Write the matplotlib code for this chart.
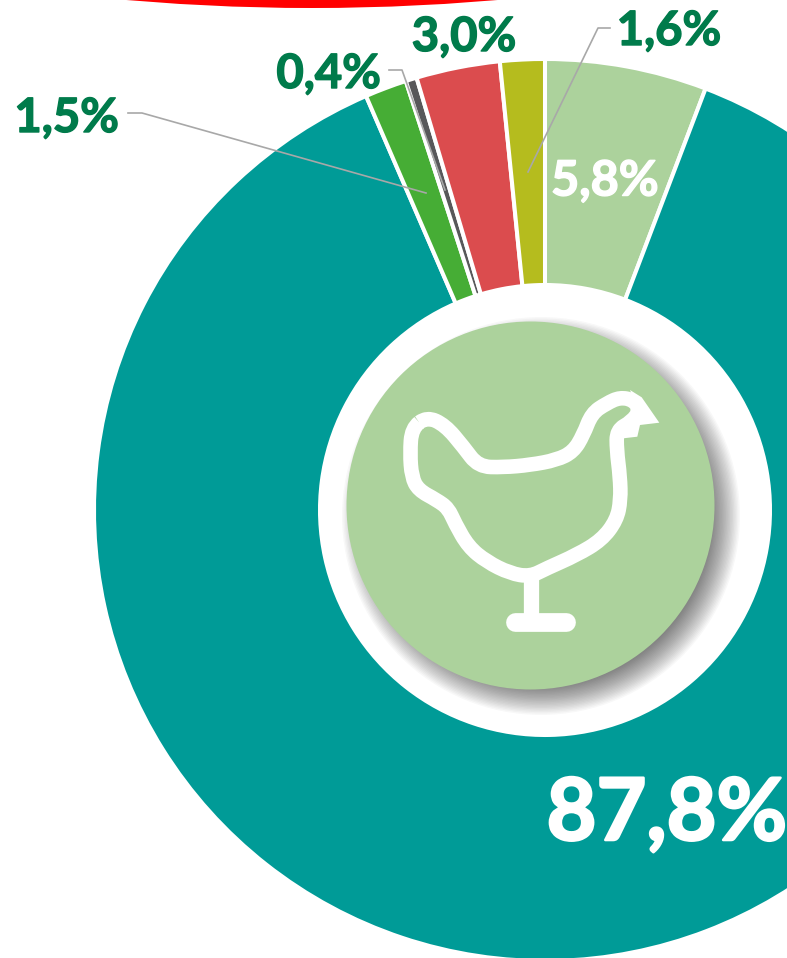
import matplotlib
matplotlib.use('Agg')
import matplotlib.pyplot as plt
import matplotlib.patheffects as pe
from matplotlib.patches import Circle, Polygon, PathPatch
from matplotlib.path import Path

# clockwise from 12 o'clock
values = [5.8, 87.8, 1.5, 0.4, 3.0, 1.6]
labels = ['5,8%', '87,8%', '1,5%', '0,4%', '3,0%', '1,6%']
colors = ['#ACD29C', '#009B97', '#46AD35', '#58585A', '#DB4C4E', '#B5BC1E']

plt.rcParams['font.family'] = ['Lato', 'DejaVu Sans']

fig = plt.figure(figsize=(7.87, 9.58), dpi=100)
ax = fig.add_axes([0, 0, 1, 1])

# red arc of the next chart up, cut off by the image edge
ax.add_patch(Circle((312, 8 - 2143), 2143, color='#FF0000', lw=0))

ax.pie(values, colors=colors, center=(545, 510), radius=451, startangle=-90,
       counterclock=True, normalize=True,
       wedgeprops=dict(width=226, edgecolor='white', linewidth=2.9))

# axes in image pixels, y down
ax.set_xlim(0, 787)
ax.set_ylim(958, 0)
ax.set_aspect('equal')
ax.axis('off')

# soft shadow behind the icon
for i in range(24):
    ax.add_patch(Circle((541, 516), 199 - i * 1.4, color='black', alpha=0.028, lw=0))
ax.add_patch(Circle((530.5, 505.5), 184, color='#ACD29C', lw=0))

# hen outline, traced in pixels
hen = [(426.7, 416.7), (445, 425), (463.3, 446.7), (478.3, 466.7), (503.3, 467.3),
       (530, 465), (556.7, 460), (573.3, 451.7), (583.3, 435), (591.7, 413.3),
       (606.7, 403.3), (620, 397.3), (633.3, 400), (640, 410), (631.7, 421.7),
       (616.7, 430), (616.7, 450), (620, 476.7), (620.7, 500), (616.7, 520),
       (601.7, 540), (576.7, 555), (546.7, 568.3), (530, 576.7), (510, 573.3),
       (486.7, 561.7), (468.3, 546.7), (455, 523.3), (448.3, 508.3), (436.7, 500),
       (418.3, 490), (411.7, 476.7), (410, 453.3), (411.7, 428.3)]

# smooth closed curve through the midpoints of the traced outline
n = len(hen)
mids = [((hen[i][0] + hen[(i + 1) % n][0]) / 2, (hen[i][1] + hen[(i + 1) % n][1]) / 2) for i in range(n)]
verts = [mids[-1]]
codes = [Path.MOVETO]
for i in range(n):
    verts += [hen[i], mids[i]]
    codes += [Path.CURVE3, Path.CURVE3]
ax.add_patch(PathPatch(Path(verts, codes), fill=False, edgecolor='white', lw=10.5, joinstyle='round'))

beak = [(630, 390), (641.7, 397.3), (659.3, 422.7), (640, 425), (637.3, 436.7),
        (623.3, 438.3), (625, 423), (631.7, 416.7), (635, 403)]
ax.add_patch(Polygon(beak, closed=True, color='white', lw=0))
ax.plot([530.5, 530.5], [575, 622], color='white', lw=11, solid_capstyle='butt')
ax.plot([514.5, 565.5], [622, 622], color='white', lw=13.5, solid_capstyle='round')

# leader lines
leader_color = '#A8A8A8'
ax.plot([128, 142, 426], [113, 113, 193], color=leader_color, lw=1.2)
ax.plot([389, 402, 445], [70, 70, 190], color=leader_color, lw=1.2)
ax.plot([610, 598, 528], [28, 28, 172], color=leader_color, lw=1.2)


def label(x, y, s, color, size, ha='center'):
    # thin stroke of the same colour to get closer to the heavy original face
    t = ax.text(x, y, s, color=color, fontsize=size, fontweight='bold', ha=ha, va='center_baseline')
    t.set_path_effects([pe.withStroke(linewidth=size * 0.03, foreground=color)])


dark = '#007B4B'
label(119, 114, labels[2], dark, 34, ha='right')
label(381, 70, labels[3], dark, 34, ha='right')
label(464, 33, labels[4], dark, 34)
label(669, 27, labels[5], dark, 34)
label(605, 177, labels[0], 'white', 35)
label(667, 808, labels[1], 'white', 62)

fig.savefig('out.png', dpi=100)
